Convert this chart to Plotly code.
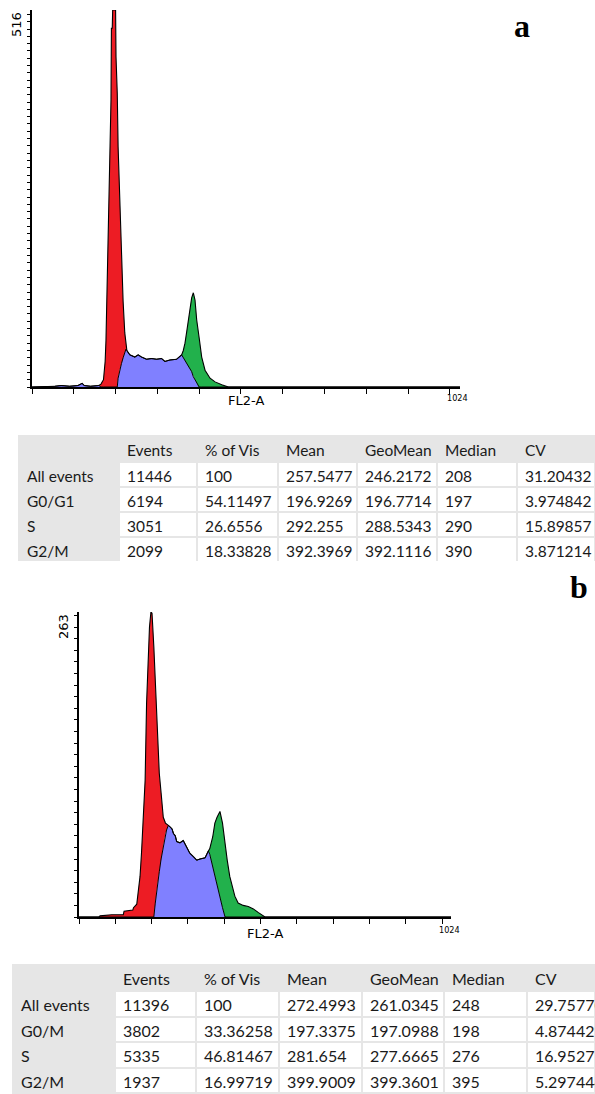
import plotly.graph_objects as go

W, H = 595, 1094

# ---------------- Panel a histogram (FL2-A channel, counts) ----------------
ch_a = [0, 50, 55, 70, 90, 110, 115, 120, 125, 140, 160, 165, 171, 175, 177, 180, 183, 187,
        189, 190, 192, 193, 196, 200, 201, 203, 204, 206, 210, 214, 218, 222, 225, 227, 234,
        246, 254, 262, 274, 286, 298, 310, 318, 330, 346, 358, 362, 366, 370, 374, 380, 382,
        386, 390, 394, 398, 400, 406, 414, 426, 438, 454, 462, 470, 1024]
total_a = [0, 0, 1, 2, 1, 2, 4, 5, 2, 1, 2, 4, 10, 35, 64, 142, 197, 329,
           393, 491, 491, 516, 516, 516, 452, 430, 402, 329, 248, 176, 117, 74, 53, 50, 44,
           41, 44, 41, 38, 39, 38, 39, 35, 37, 38, 44, 50, 60, 75, 92, 115, 122,
           129, 119, 92, 72, 67, 41, 23, 12, 7, 3, 1, 0, 0]
sphase_a = [0, 0, 1, 2, 1, 2, 4, 5, 2, 1, 2, 0, 0, 0, 0, 0, 0, 0,
            0, 0, 0, 0, 0, 0, 0, 0, 0, 12, 24, 32, 40, 47, 52, 50, 44,
            41, 44, 41, 38, 39, 38, 39, 35, 37, 38, 44, 40, 36, 32, 28, 23, 21,
            14, 10, 5, 0, 0, 0, 0, 0, 0, 0, 0, 0, 0]
g1_range_a = (160, 227)
g2_range_a = (358, 470)
ymax_a = 516

# ---------------- Panel b histogram ----------------
ch_b = [0, 55, 58, 90, 122, 124, 148, 150, 159, 163, 168, 172, 177, 182, 186, 191, 194, 198,
        201, 206, 210, 215, 221, 226, 232, 238, 241, 246, 250, 256, 260, 265, 269, 278, 287,
        296, 305, 315, 324, 333, 347, 353, 356, 360, 368, 374, 380, 388, 395, 402, 408, 415,
        423, 429, 438, 452, 466, 480, 493, 507, 512, 1024]
total_b = [0, 0, 1, 2, 2, 5, 6, 8, 11, 22, 35, 55, 84, 118, 184, 223, 250, 263,
           262, 233, 206, 161, 124, 107, 86, 81, 80, 79, 78, 76, 72, 70, 65, 64, 66,
           61, 55, 52, 49, 50, 51, 55, 57, 59, 69, 81, 86, 91, 81, 61, 49, 35,
           25, 18, 12, 10, 9, 7, 4, 1, 0, 0]
sphase_b = [0, 0, 0, 0, 0, 0, 0, 0, 0, 0, 0, 0, 0, 0, 0, 0, 0, 0,
            0, 0, 12, 26, 39, 50, 61, 72, 75, 79, 78, 76, 72, 70, 65, 64, 66,
            61, 55, 52, 49, 50, 51, 55, 57, 54, 43, 35, 29, 17, 8, 0, 0, 0,
            0, 0, 0, 0, 0, 0, 0, 0, 0, 0]
g1_range_b = (55, 246)
g2_range_b = (356, 512)
ymax_b = 263

# ---------------- Tables ----------------
table_header = ["", "Events", "% of Vis", "Mean", "GeoMean", "Median", "CV"]

rows_a = ["All events", "G0/G1", "S", "G2/M"]
events_a = ["11446", "6194", "3051", "2099"]
pct_a = ["100", "54.11497", "26.6556", "18.33828"]
mean_a = ["257.5477", "196.9269", "292.255", "392.3969"]
geomean_a = ["246.2172", "196.7714", "288.5343", "392.1116"]
median_a = ["208", "197", "290", "390"]
cv_a = ["31.20432", "3.974842", "15.89857", "3.871214"]

rows_b = ["All events", "G0/M", "S", "G2/M"]
events_b = ["11396", "3802", "5335", "1937"]
pct_b = ["100", "33.36258", "46.81467", "16.99719"]
mean_b = ["272.4993", "197.3375", "281.654", "399.9009"]
geomean_b = ["261.0345", "197.0988", "277.6665", "399.3601"]
median_b = ["248", "198", "276", "395"]
cv_b = ["29.75770", "4.874429", "16.95271", "5.297444"]

RED = "#ed1c24"
BLUE = "#8080ff"
GREEN = "#22b14c"
GRAY = "#e6e6e6"


def pxx(x):
    return x / W


def pyy(y):
    return 1 - y / H


fig = go.Figure()


def add_hist(ch, tot, sph, g1r, g2r, xa, ya):
    common = dict(xaxis=xa, yaxis=ya, hoverinfo="skip", showlegend=False, mode="lines")
    fig.add_trace(go.Scatter(x=ch, y=sph, fill="tozeroy", fillcolor=BLUE,
                             line=dict(width=0, color=BLUE), **common))
    for (lo, hi), col in ((g1r, RED), (g2r, GREEN)):
        idx = [i for i, c in enumerate(ch) if lo <= c <= hi]
        xs = [ch[i] for i in idx] + [ch[i] for i in reversed(idx)]
        ys = [tot[i] for i in idx] + [sph[i] for i in reversed(idx)]
        fig.add_trace(go.Scatter(x=xs, y=ys, fill="toself", fillcolor=col,
                                 line=dict(width=0, color=col), **common))
    fig.add_trace(go.Scatter(x=ch, y=sph, line=dict(width=1, color="black"), **common))
    fig.add_trace(go.Scatter(x=ch, y=tot, line=dict(width=1.1, color="black"), **common))


add_hist(ch_a, total_a, sphase_a, g1_range_a, g2_range_a, "x", "y")
add_hist(ch_b, total_b, sphase_b, g1_range_b, g2_range_b, "x2", "y2")


def add_table(dom_x, dom_y, rows, cols, widths, fsize, hh, rh):
    fills = [[GRAY] * len(rows)] + [["white"] * len(rows)] * len(cols)
    tfont = dict(family="Lato, Carlito, sans-serif", size=fsize, color="#1a1a1a")
    fig.add_trace(go.Table(
        domain=dict(x=dom_x, y=dom_y),
        columnwidth=widths,
        header=dict(values=table_header, fill_color=GRAY, line=dict(color=GRAY, width=2),
                    align="left", height=hh, font=tfont),
        cells=dict(values=[rows] + cols, fill=dict(color=fills), line=dict(color=GRAY, width=2),
                   align="left", height=rh, font=tfont),
    ))


add_table([pxx(19), 1], [pyy(562), pyy(436)], rows_a,
          [events_a, pct_a, mean_a, geomean_a, median_a, cv_a],
          [100, 78, 81, 79, 80, 80, 78], 15.5, 26, 25)
add_table([pxx(13), 1], [pyy(1094), pyy(965)], rows_b,
          [events_b, pct_b, mean_b, geomean_b, median_b, cv_b],
          [102, 81, 83, 83, 82, 83, 68], 16, 26, 25.5)

xcommon = dict(range=[0, 1024], showgrid=False, zeroline=False, showline=True, linecolor="black",
               linewidth=1.5, ticks="outside", tickmode="array",
               tickvals=[0, 100, 200, 300, 400, 500, 600, 700, 800, 900, 1000],
               ticklen=5, tickwidth=1.2, tickcolor="black", showticklabels=False, fixedrange=True)
ycommon = dict(showgrid=False, zeroline=False, showline=True, linecolor="black", linewidth=1.5,
               ticks="outside", tick0=0, dtick=10, ticklen=3, tickwidth=1, tickcolor="black",
               showticklabels=False, fixedrange=True)

fig.update_layout(
    width=W, height=H, margin=dict(l=0, r=0, t=0, b=0),
    paper_bgcolor="white", plot_bgcolor="white", showlegend=False,
    xaxis=dict(domain=[pxx(32), pxx(460)], anchor="y", **xcommon),
    yaxis=dict(domain=[pyy(387), pyy(10)], anchor="x", range=[0, ymax_a], **ycommon),
    xaxis2=dict(domain=[pxx(79), pxx(451)], anchor="y2", **xcommon),
    yaxis2=dict(domain=[pyy(917), pyy(612)], anchor="x2", range=[0, ymax_b], **ycommon),
)

ann_font = dict(family="DejaVu Sans, Verdana, sans-serif", size=13, color="black")
small_font = dict(family="Liberation Sans Narrow, DejaVu Sans Condensed, Arial Narrow, sans-serif",
                  size=9, color="black")
lbl_font = dict(family="Liberation Serif, Times New Roman, serif", size=32, color="black")
annots = [
    dict(text=str(ymax_a), x=pxx(17), y=pyy(25), textangle=-90, font=ann_font),
    dict(text=str(ymax_b), x=pxx(63), y=pyy(627), textangle=-90, font=ann_font),
    dict(text="FL2-A", x=pxx(246), y=pyy(400), font=ann_font),
    dict(text="FL2-A", x=pxx(265), y=pyy(933), font=ann_font),
    dict(text="1024", x=pxx(457), y=pyy(398), font=small_font),
    dict(text="1024", x=pxx(449), y=pyy(930), font=small_font),
    dict(text="<b>a</b>", x=pxx(522), y=pyy(26), font=lbl_font),
    dict(text="<b>b</b>", x=pxx(579), y=pyy(587), font=lbl_font),
]
for a in annots:
    a.update(xref="paper", yref="paper", showarrow=False, xanchor="center", yanchor="middle")
fig.update_layout(annotations=annots)

fig.write_html(
    "out.html",
    config={"displayModeBar": False},
    post_script="document.body.style.margin='0';document.body.style.overflow='hidden';"
                "document.documentElement.style.overflow='hidden';",
)
